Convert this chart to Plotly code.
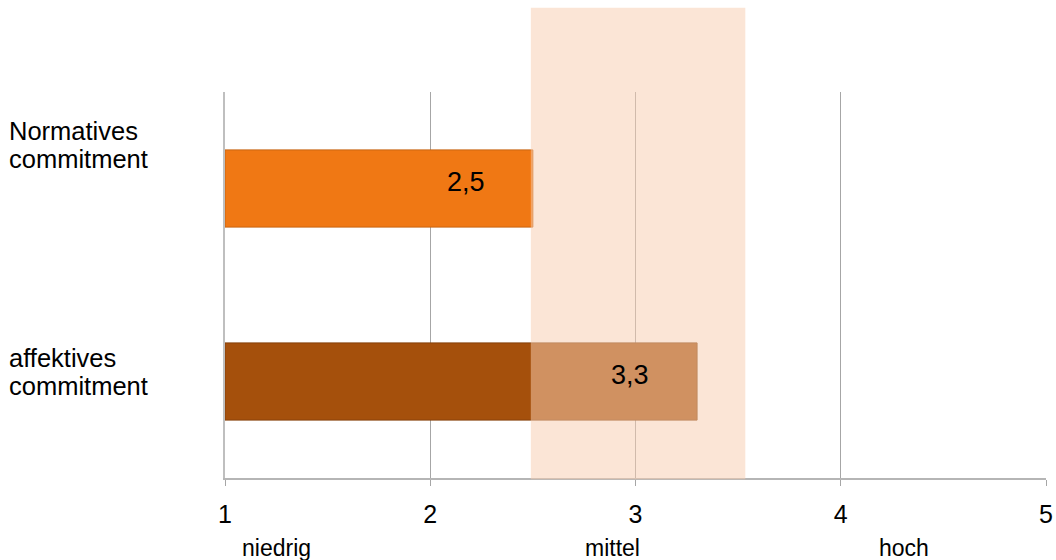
import plotly.graph_objects as go

# ---- data ----
categories = ["Normatives\ncommitment", "affektives\ncommitment"]
values = [2.5, 3.3]
bar_colors = ["#F07814", "#A5500C"]
bar_line_colors = ["#C86410", "#86400A"]
x_ticks = [1, 2, 3, 4, 5]
level_labels = ["niedrig", "mittel", "hoch"]
level_positions = [1.253, 2.886, 4.31]
band_range = [2.49, 3.535]

FONT = "Arial, 'Liberation Sans', sans-serif"

fig = go.Figure()
fig.add_trace(go.Bar(
    x=[v - 1 for v in values],
    base=[1] * len(values),
    y=categories,
    orientation="h",
    width=0.4,
    marker=dict(color=bar_colors, line=dict(color=bar_line_colors, width=1)),
    hoverinfo="skip",
    showlegend=False,
    cliponaxis=False,
))

annotations = []
# value labels
for cat, v in zip(categories, values):
    annotations.append(dict(
        x=v, y=cat, xref="x", yref="y", text=f"{v:.1f}".replace(".", ","),
        showarrow=False, xanchor="right", yanchor="middle",
        xshift=-46, yshift=7, font=dict(family=FONT, size=27, color="black"),
    ))
# category labels (left, left-aligned, each line separately)
cat_shift = [44, 10]
for cat, sh in zip(categories, cat_shift):
    lines = cat.split("\n")
    for i, ln in enumerate(lines):
        annotations.append(dict(
            x=0, xref="paper", xanchor="left", xshift=-218,
            y=cat, yref="y", yanchor="middle",
            yshift=sh + 14 - 28 * i,
            text=ln, showarrow=False,
            font=dict(family=FONT, size=25.5, color="black"),
        ))
# level labels
for lab, pos in zip(level_labels, level_positions):
    annotations.append(dict(
        x=pos, xref="x", y=-0.181, yref="paper", text=lab,
        showarrow=False, xanchor="center", yanchor="middle",
        font=dict(family=FONT, size=23, color="black"),
    ))

fig.update_layout(
    width=1056, height=560,
    margin=dict(l=225, r=10, t=92, b=82, autoexpand=False),
    paper_bgcolor="white", plot_bgcolor="white",
    bargap=0.6,
    xaxis=dict(
        range=[1, 5], tickvals=x_ticks, ticktext=[str(t) for t in x_ticks],
        showgrid=True, gridcolor="#A6A6A6", gridwidth=1,
        showline=True, linecolor="#B5B5B5", linewidth=2,
        ticks="outside", ticklen=6, tickcolor="#A6A6A6", tickwidth=1,
        ticklabelstandoff=7, automargin=False,
        tickfont=dict(family=FONT, size=25, color="black"),
        zeroline=False, fixedrange=True,
    ),
    yaxis=dict(
        autorange="reversed", showticklabels=False, showgrid=False,
        showline=True, linecolor="#BFBFBF", linewidth=2,
        ticks="", zeroline=False, automargin=False,
    ),
    shapes=[dict(
        type="rect", xref="x", yref="paper",
        x0=band_range[0], x1=band_range[1], y0=-0.003, y1=1.218,
        fillcolor="rgba(247,205,176,0.52)", line=dict(width=0), layer="above",
    )],
    annotations=annotations,
    font=dict(family=FONT),
)

fig.write_html("out.html")
